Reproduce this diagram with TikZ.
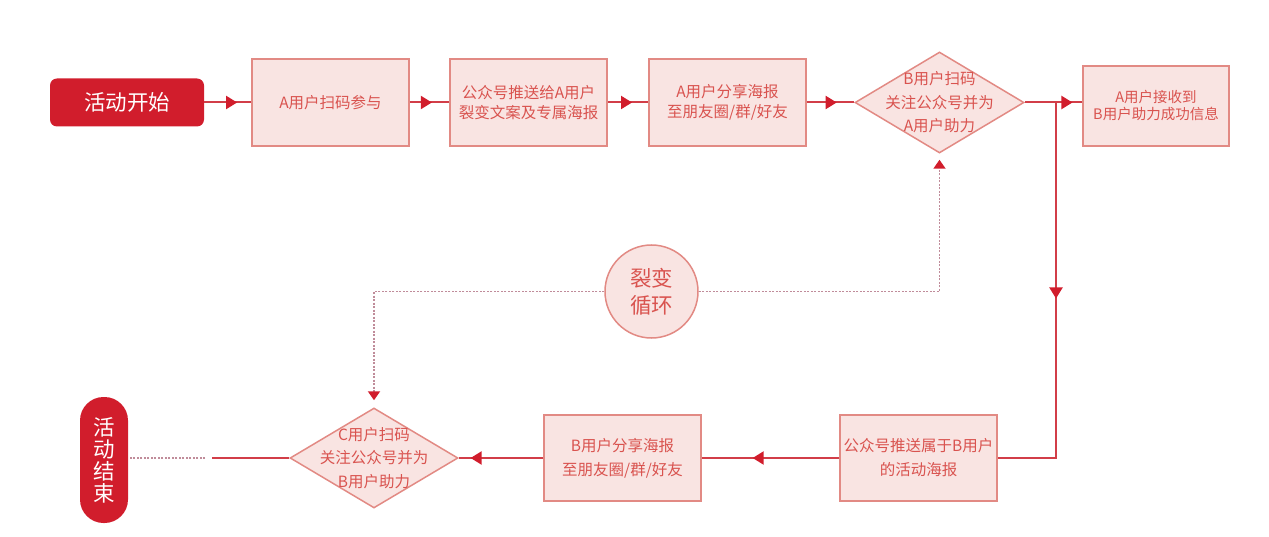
\documentclass[tikz,border=0pt]{standalone}
\usepackage{fontspec}
\newfontfamily\cjk{Noto Sans CJK SC}
\usetikzlibrary{arrows.meta,shapes.geometric,decorations.markings}
\definecolor{darkred}{HTML}{D11D2C}
\definecolor{linered}{HTML}{D23E48}
\definecolor{boxfill}{HTML}{F9E4E2}
\definecolor{boxline}{HTML}{E28A84}
\definecolor{boxtext}{HTML}{D9534F}
\definecolor{dotcol}{HTML}{C08C9A}
\begin{document}
\begin{tikzpicture}[x=1pt,y=-1pt,
  boxnode/.style={draw=boxline, fill=boxfill, line width=1.5pt, minimum width=157pt, minimum height=87pt, inner sep=0pt, text=boxtext, align=center, font=\cjk\fontsize{15.5}{20}\selectfont},
  dia/.style={shape=diamond, draw=boxline, fill=boxfill, line width=1.5pt, minimum width=169pt, minimum height=101pt, inner sep=0pt},
  dtext/.style={text=boxtext, align=center, inner sep=0pt, font=\cjk\fontsize{15.5}{23.5}\selectfont},
  termnode/.style={fill=darkred, text=white, inner sep=0pt, align=center},
  conn/.style={draw=linered, line width=2pt},
  dotline/.style={draw=dotcol, line width=1.9pt, dash pattern=on 1.8pt off 1.7pt},
  tipr/.style={-{Triangle[length=9pt,width=12pt,color=darkred]}},
  midarr/.style={postaction={decorate,decoration={markings,mark=at position #1 with {\arrow{Triangle[length=11pt,width=13pt,color=darkred]}}}}}
]
\useasboundingbox (0,0) rectangle (1269,537);

% nodes
\node[termnode, rounded corners=7pt, minimum width=154pt, minimum height=48pt, font=\cjk\fontsize{21.5}{25}\selectfont] (start) at (127,102.5) {活动开始};
\node[boxnode] (b1) at (330.5,102.5) {A用户扫码参与};
\node[boxnode] (b2) at (528.5,102.5) {公众号推送给A用户\\裂变文案及专属海报};
\node[boxnode] (b3) at (727.5,102.5) {A用户分享海报\\至朋友圈/群/好友};
\node[dia] (d1) at (939.5,102.5) {};
\node[dtext] (d1t) at (d1) {B用户扫码\\关注公众号并为\\A用户助力};
\node[boxnode, minimum width=146pt, minimum height=80pt, font=\cjk\fontsize{14.5}{17}\selectfont] (b4) at (1156,106) {A用户接收到\\B用户助力成功信息};
\node[boxnode, minimum height=86pt, font=\cjk\fontsize{15.5}{24}\selectfont] (b5) at (918.5,458) {公众号推送属于B用户\\的活动海报};
\node[boxnode, minimum height=86pt, font=\cjk\fontsize{15.5}{24}\selectfont] (b6) at (622.5,458) {B用户分享海报\\至朋友圈/群/好友};
\node[dia, minimum width=168pt, minimum height=100pt] (d2) at (374,458) {};
\node[dtext] (d2t) at (d2) {C用户扫码\\关注公众号并为\\B用户助力};
\node[termnode, rounded corners=23.5pt, minimum width=48pt, minimum height=126pt, font=\cjk\fontsize{21.5}{22}\selectfont] (end) at (104,460) {活\\动\\结\\束};
\node[circle, draw=boxline, fill=boxfill, line width=1.5pt, minimum size=93pt, inner sep=0pt, text=boxtext, align=center, font=\cjk\fontsize{21.5}{27}\selectfont] (circ) at (651.5,291.5) {裂变\\循环};

\coordinate (j1) at (1056,102.5);
\coordinate (e1) at (212,458);
\coordinate (e2) at (205,458);

% connectors
\draw[conn, midarr=0.7] (start.east) -- (b1.west);
\draw[conn, midarr=0.56] (b1.east) -- (b2.west);
\draw[conn, midarr=0.6] (b2.east) -- (b3.west);
\draw[conn, midarr=0.63] (b3.east) -- (d1.west);
\draw[conn, midarr=0.83] (d1.east) -- (d1.east -| b4.west);
\draw[conn, midarr=196pt] (j1) |- (b5.east);
\draw[conn, midarr=0.63] (b5.west) -- (b6.east);
\draw[conn, midarr=0.86] (b6.west) -- (d2.east);
\draw[conn] (d2.west) -- (e1);
\draw[dotline] (e2) -- (e2 -| end.east);

\draw[dotline, tipr] (circ.west) -| ([yshift=7pt]d2.north);
\draw[dotline, tipr] (circ.east) -| ([yshift=-6pt]d1.south);
\end{tikzpicture}
\end{document}
